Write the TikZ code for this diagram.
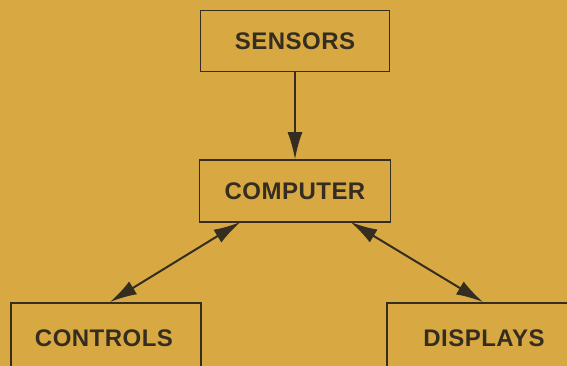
\documentclass[tikz,border=0pt]{standalone}
\usepackage{fontspec}
\setmainfont{Liberation Sans}
\usetikzlibrary{arrows.meta}
\definecolor{paper}{RGB}{216,169,66}
\definecolor{ink}{RGB}{52,45,32}
\tikzset{
  label/.style={text=ink, font=\fontsize{24}{26}\selectfont\bfseries\addfontfeature{LetterSpace=2}},
  block/.style={label, draw=ink, line width=1.5pt, fill=none, inner sep=0pt},
  tip/.tip={Latex[length=27pt,width=15pt]},
  link/.style={draw=ink, line width=2pt, -tip},
  dlink/.style={draw=ink, line width=2pt, tip-tip}
}
\begin{document}
\begin{tikzpicture}[x=1pt,y=-1pt]
  \fill[paper] (0,0) rectangle (567,366);
  \useasboundingbox (0,0) rectangle (567,366);
  \clip (0,0) rectangle (567,366);
  \node[block, minimum width=189pt, minimum height=61pt] (sensors) at (295,41) {SENSORS};
  \node[block, minimum width=191pt, minimum height=62pt] (computer) at (295,191) {COMPUTER};
  \node[block, minimum width=190pt, minimum height=80pt, anchor=north west] (controls) at (10,302) {};
  \node[label] (controlstext) at (104,338) {CONTROLS};
  \node[block, minimum width=200pt, minimum height=80pt, anchor=north west] (displays) at (386,302) {};
  \node[label] (displaystext) at (484,338) {DISPLAYS};
  \draw[link] (sensors.south) -- (computer.north);
  \coordinate (cl) at (240.5,222);
  \coordinate (cr) at (350.5,222);
  \coordinate (tl) at (110,302);
  \coordinate (tr) at (483,302);
  \draw[dlink] (tl) -- (cl);
  \draw[dlink] (cr) -- (tr);
\end{tikzpicture}
\end{document}
